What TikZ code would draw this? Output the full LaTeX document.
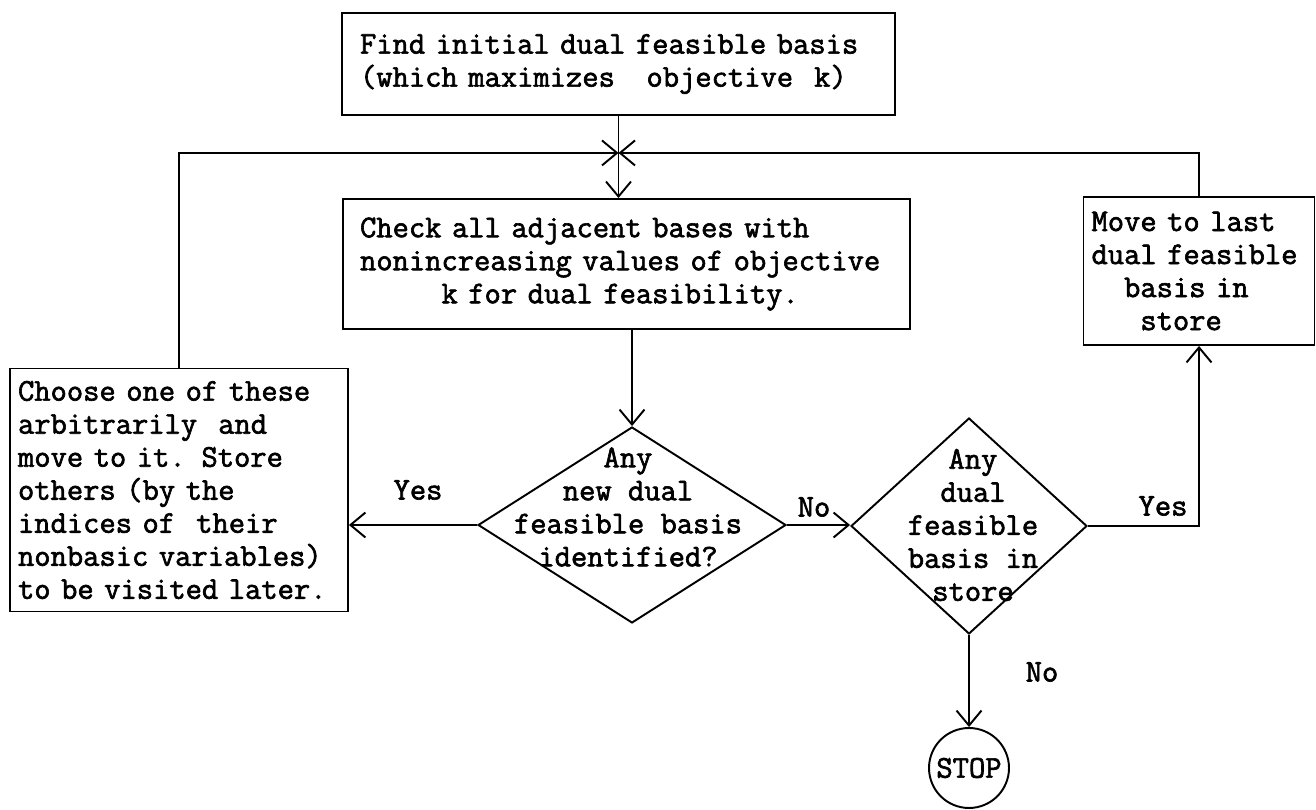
\documentclass[tikz,border=0pt]{standalone}
\usepackage{fontspec}
\setmonofont[FakeBold=2]{Latin Modern Mono}
\usetikzlibrary{shapes.geometric,arrows.meta}
\begin{document}
\begin{tikzpicture}[x=0.02cm, y=-0.02cm, line width=1.1pt,
  every node/.style={font=\ttfamily\fontsize{18}{18.8}\selectfont},
  box/.style={draw, rectangle, align=left, inner ysep=0.05cm},
  dia/.style={draw, diamond, inner sep=0pt},
  txt/.style={inner sep=0pt, align=center},
  arr/.style={-{Straight Barb[length=0.3cm,width=0.5cm]}}]
\useasboundingbox (0,0) rectangle (1316,810);

% process boxes
\node[box, minimum width=11.06cm, minimum height=2.04cm, text width=10.34cm, inner xsep=0.36cm]
  (find) at (618.5,64)
  {Find initial dual feasible basis\\(which maximizes\ \ \ objective\ \ k)};
\node[box, minimum width=11.34cm, minimum height=2.6cm, text width=10.66cm, inner xsep=0.34cm]
  (check) at (626.5,264)
  {Check all adjacent bases with\\nonincreasing values of objective\\\hphantom{xxxxx}k for dual feasibility.};
\node[box, minimum width=6.76cm, minimum height=4.86cm, text width=6.44cm, inner xsep=0.16cm]
  (choose) at (179,490)
  {Choose one of these\\arbitrarily\ \ and\\move to it. Store\\others (by the\\indices of\ \ their\\nonbasic variables)\\to be visited later.};
\node[box, minimum width=4.62cm, minimum height=2.96cm, text width=4.3cm, inner xsep=0.16cm]
  (move) at (1199,271)
  {Move to last\\dual feasible\\\hphantom{xx}basis in\\\hphantom{xxx}store};

% decisions
\node[dia, minimum width=6.16cm, minimum height=3.92cm] (d1) at (632,525) {};
\node[txt] (d1t) at (628,507) {Any\\new dual\\feasible basis\\identified?};
\node[dia, minimum width=4.72cm, minimum height=4.32cm] (d2) at (969,526) {};
\node[txt] (d2t) at (973,525) {Any\\dual\\feasible\\basis in\\store};

% terminal
\node[draw, circle, minimum size=1.6cm, inner sep=0pt] (stop) at (969,768) {STOP};

% junction above the check step
\coordinate (j) at ([yshift=-0.74cm]find.south);

% connectors
\draw[arr] (find.south) -- (find.south |- check.north);
\draw[arr] (choose.north) |- (j);
\draw[arr] (move.north) |- (j);
\draw[arr] (check.south -| d1.north) -- (d1.north);
\draw[arr] (d1.west) -- (d1.west -| choose.east);
\draw[arr] (d1.east) -- (d1.east -| d2.west);
\draw[arr] (d2.east) -| (move.south);
\draw[arr] (d2.south) -- (stop.north);

% branch labels
\node (yes1) at (418,490) {Yes};
\node (no1) at (814,507) {No};
\node (yes2) at (1163,506) {Yes};
\node (no2) at (1042,672) {No};
\end{tikzpicture}
\end{document}
